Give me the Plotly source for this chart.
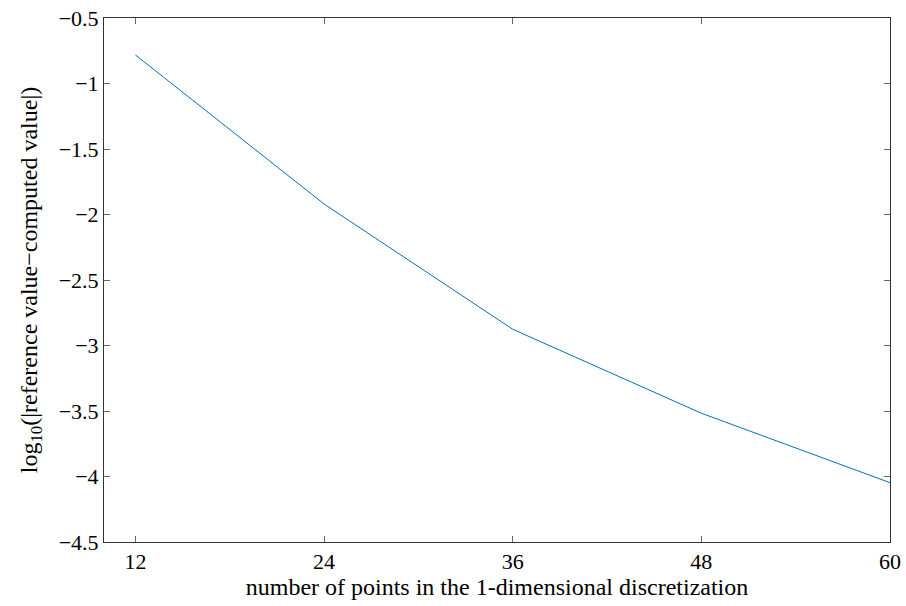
import plotly.graph_objects as go

points = [12, 24, 36, 48, 60]
log_error = [-0.782, -1.92, -2.876, -3.517, -4.047]

x_ticks = [12, 24, 36, 48, 60]

font = "Liberation Serif"
TICK_FS = 22
TITLE_FS = 24

fig = go.Figure()
fig.add_trace(go.Scatter(
    x=points, y=log_error, mode="lines",
    line=dict(color="#0072bd", width=1),
    showlegend=False,
))

axis_common = dict(
    showgrid=False, zeroline=False, automargin=False,
    showline=True, linecolor="#333333", linewidth=1, mirror="ticks",
    ticks="inside", ticklen=6, tickcolor="#666666", tickwidth=1,
    tickfont=dict(family=font, size=TICK_FS, color="black"),
    ticklabeloverflow="allow",
)

fig.update_xaxes(
    range=[10, 60], tickvals=x_ticks,
    title=dict(text="number of points in the 1-dimensional discretization",
               font=dict(family=font, size=TITLE_FS, color="black"), standoff=2),
    **axis_common,
)
fig.update_yaxes(
    range=[-4.5, -0.5], dtick=0.5, tick0=-0.5,
    title=dict(text="log<sub>10</sub>(|reference value−computed value|)",
               font=dict(family=font, size=TITLE_FS, color="black"), standoff=14),
    **axis_common,
)

fig.update_layout(
    width=906, height=606,
    margin=dict(l=104, r=16, t=18, b=64),
    plot_bgcolor="white", paper_bgcolor="white",
    font=dict(family=font, color="black"),
)

fig.write_html(
    "out.html",
    config={"displayModeBar": False},
    post_script="document.body.style.margin='0';document.body.style.overflow='hidden';",
)
